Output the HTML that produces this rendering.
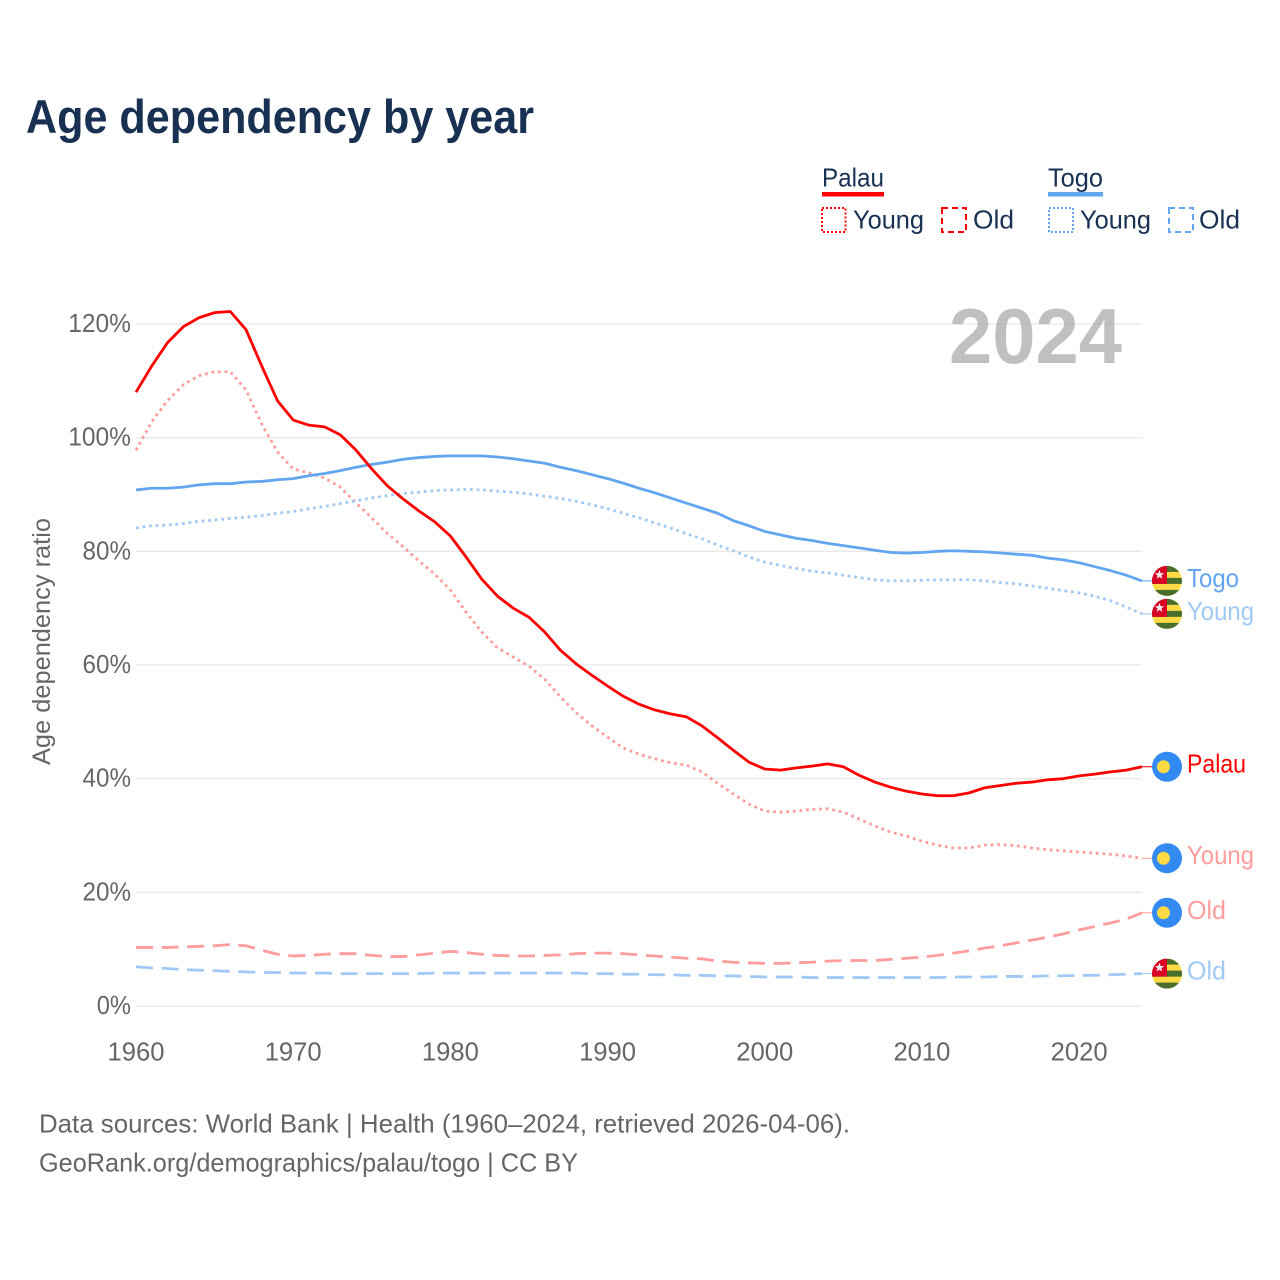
<!DOCTYPE html>
<html lang="en">
<head>
<meta charset="utf-8">
<title>Age dependency by year</title>
<style>
  html, body { margin: 0; padding: 0; background: #fff; }
  svg { display: block; font-family: "Liberation Sans", sans-serif; }
</style>
</head>
<body>
<svg id="chart" xmlns="http://www.w3.org/2000/svg" width="1280" height="1280" viewBox="0 0 1280 1280">
  <defs>
    <clipPath id="flag-clip"><circle cx="0" cy="0" r="15"/></clipPath>
    <g id="flag-togo">
      <g clip-path="url(#flag-clip)">
        <rect x="-15" y="-15" width="30" height="30" fill="#ffda44"/>
        <rect x="-15" y="-15" width="30" height="6" fill="#496e2d"/>
        <rect x="-15" y="-3" width="30" height="6" fill="#496e2d"/>
        <rect x="-15" y="9" width="30" height="6" fill="#496e2d"/>
        <rect x="-15" y="-15" width="15" height="18" fill="#d80027"/>
        <polygon points="-7.5,-11 -6.3,-7.6 -2.8,-7.6 -5.6,-5.4 -4.6,-2 -7.5,-4 -10.4,-2 -9.4,-5.4 -12.2,-7.6 -8.7,-7.6" fill="#f0f0f0"/>
      </g>
    </g>
    <g id="flag-palau">
      <circle cx="0" cy="0" r="15" fill="#338af3"/>
      <circle cx="-3.5" cy="0" r="6.5" fill="#ffda44"/>
    </g>
  </defs>

  <rect x="0" y="0" width="1280" height="1280" fill="#ffffff"/>

  <text x="26" y="133" font-size="47" font-weight="700" fill="#183153" textLength="508" lengthAdjust="spacingAndGlyphs">Age dependency by year</text>

  <g>
    <g>
      <text x="822" y="186.5" font-size="26" fill="#183153" textLength="62" lengthAdjust="spacingAndGlyphs">Palau</text>
      <rect x="822" y="192" width="62" height="4.5" fill="#ff0000"/>
      <rect x="822" y="208" width="23.5" height="24" fill="none" stroke="#ff0000" stroke-width="2" stroke-dasharray="2 2"/>
      <text x="853" y="228.5" font-size="26" fill="#183153" textLength="71" lengthAdjust="spacingAndGlyphs">Young</text>
      <rect x="942" y="208" width="24" height="24" fill="none" stroke="#ff0000" stroke-width="2" stroke-dasharray="6 4"/>
      <text x="973" y="228.5" font-size="26" fill="#183153" textLength="41" lengthAdjust="spacingAndGlyphs">Old</text>
    </g>
    <g>
      <text x="1048" y="186.5" font-size="26" fill="#183153" textLength="55" lengthAdjust="spacingAndGlyphs">Togo</text>
      <rect x="1048" y="192" width="55" height="4.5" fill="#62a6ef"/>
      <rect x="1049" y="208" width="24" height="24" fill="none" stroke="#62a6ef" stroke-width="2" stroke-dasharray="2 2"/>
      <text x="1080" y="228.5" font-size="26" fill="#183153" textLength="71" lengthAdjust="spacingAndGlyphs">Young</text>
      <rect x="1169" y="208" width="24" height="24" fill="none" stroke="#62a6ef" stroke-width="2" stroke-dasharray="6 4"/>
      <text x="1199" y="228.5" font-size="26" fill="#183153" textLength="41" lengthAdjust="spacingAndGlyphs">Old</text>
    </g>
  </g>

  <g id="grid"></g>
  <g id="y-ticks"></g>
  <g id="x-ticks"></g>

  <text transform="translate(50,765) rotate(-90)" x="0" y="0" font-size="25" fill="#666666" textLength="247" lengthAdjust="spacingAndGlyphs">Age dependency ratio</text>

  <text x="949" y="363" font-size="78" font-weight="700" fill="#a8a8a8" fill-opacity="0.72" textLength="173" lengthAdjust="spacingAndGlyphs">2024</text>

  <g id="series"></g>
  <g id="end-labels"></g>

  <text x="39" y="1132.5" font-size="26" fill="#666666" textLength="811" lengthAdjust="spacingAndGlyphs">Data sources: World Bank | Health (1960–2024, retrieved 2026-04-06).</text>
  <text x="39" y="1171.5" font-size="26" fill="#666666" textLength="539" lengthAdjust="spacingAndGlyphs">GeoRank.org/demographics/palau/togo | CC BY</text>
</svg>

<script>
const firstYear = 1960;
const yTicks = [0, 20, 40, 60, 80, 100, 120];
const xTicks = [1960, 1970, 1980, 1990, 2000, 2010, 2020];

const palauTotal = [108.0,112.6,116.7,119.5,121.1,122.0,122.2,119.0,112.6,106.5,103.1,102.2,101.9,100.5,97.8,94.5,91.5,89.2,87.1,85.2,82.7,79.0,75.1,72.1,70.0,68.4,65.8,62.6,60.2,58.2,56.3,54.5,53.1,52.1,51.4,50.9,49.3,47.2,45.0,42.9,41.7,41.5,41.9,42.2,42.6,42.1,40.6,39.4,38.5,37.8,37.3,37.0,37.0,37.5,38.4,38.8,39.2,39.4,39.8,40.0,40.5,40.8,41.2,41.5,42.1];
const palauYoung = [97.8,102.8,106.5,109.3,110.9,111.6,111.6,108.4,102.4,97.5,94.5,93.8,92.9,91.3,88.5,85.9,83.1,80.8,78.3,76.0,73.2,69.3,65.8,63.0,61.4,59.8,57.5,54.4,51.6,49.3,47.3,45.4,44.3,43.5,42.8,42.4,41.2,39.2,37.3,35.5,34.3,34.1,34.3,34.6,34.7,34.1,32.9,31.7,30.6,29.9,29.0,28.3,27.8,27.8,28.3,28.4,28.2,27.8,27.5,27.3,27.1,26.9,26.7,26.4,26.0];
const palauOld = [10.3,10.3,10.3,10.4,10.5,10.6,10.8,10.6,9.8,9.1,8.8,8.9,9.1,9.2,9.2,8.9,8.7,8.7,9.0,9.3,9.6,9.4,9.1,8.9,8.8,8.8,8.9,9.0,9.2,9.3,9.3,9.2,9.0,8.8,8.6,8.4,8.3,7.9,7.7,7.6,7.5,7.5,7.6,7.7,7.9,8.0,8.0,8.0,8.2,8.4,8.6,8.9,9.3,9.7,10.2,10.6,11.1,11.6,12.1,12.7,13.4,14.0,14.6,15.3,16.4];
const togoTotal = [90.8,91.1,91.1,91.3,91.7,91.9,91.9,92.2,92.3,92.6,92.8,93.3,93.7,94.2,94.8,95.3,95.7,96.2,96.5,96.7,96.8,96.8,96.8,96.6,96.3,95.9,95.5,94.8,94.2,93.5,92.8,92.0,91.1,90.3,89.4,88.5,87.6,86.7,85.4,84.5,83.5,82.9,82.3,81.9,81.4,81.0,80.6,80.2,79.8,79.7,79.8,80.0,80.1,80.0,79.9,79.7,79.5,79.3,78.8,78.5,78.0,77.3,76.6,75.8,74.8];
const togoYoung = [84.1,84.5,84.6,84.9,85.3,85.5,85.8,86.0,86.3,86.7,87.0,87.5,87.9,88.4,88.9,89.4,89.8,90.2,90.4,90.7,90.8,90.9,90.8,90.6,90.4,90.1,89.7,89.3,88.8,88.2,87.5,86.7,85.9,85.0,84.1,83.1,82.2,81.1,80.1,79.0,78.1,77.5,77.0,76.5,76.2,75.8,75.4,75.0,74.8,74.8,74.9,75.0,75.0,75.0,74.8,74.5,74.3,73.9,73.5,73.1,72.7,72.1,71.3,70.2,69.0];
const togoOld = [6.9,6.7,6.6,6.4,6.3,6.2,6.1,6.0,5.9,5.9,5.8,5.8,5.8,5.7,5.7,5.7,5.7,5.7,5.7,5.8,5.8,5.8,5.8,5.8,5.8,5.8,5.8,5.8,5.8,5.7,5.7,5.6,5.6,5.5,5.5,5.4,5.4,5.3,5.3,5.2,5.1,5.1,5.1,5.0,5.0,5.0,5.0,5.0,5.0,5.0,5.0,5.0,5.1,5.1,5.1,5.2,5.2,5.2,5.3,5.3,5.4,5.4,5.5,5.6,5.7];

const NS = 'http://www.w3.org/2000/svg';
const xScale = function (year) { return 136 + (year - 1960) * (1142 - 136) / 64; };
const yScale = function (v) { return 1006 - v * (1006 - 324) / 120; };

function make(tag, parent) {
  const el = document.createElementNS(NS, tag);
  parent.appendChild(el);
  return el;
}

const grid = document.getElementById('grid');
const yTickGroup = document.getElementById('y-ticks');
const xTickGroup = document.getElementById('x-ticks');
const seriesGroup = document.getElementById('series');
const labelGroup = document.getElementById('end-labels');

yTicks.forEach(function (t) {
  const line = make('line', grid);
  
  
  line.setAttribute('x1', 136);
  line.setAttribute('x2', 1142);
  line.setAttribute('y1', yScale(t));
  line.setAttribute('y2', yScale(t));
  line.setAttribute('stroke', '#e8e8e8');
  line.setAttribute('stroke-width', '1.3');

  const label = make('text', yTickGroup);
  
  
  const str = t + '%';
  const w = (str.length - 1) * 14.25 + 20;
  label.setAttribute('x', 131 - w);
  label.setAttribute('y', yScale(t) + 8);
  label.setAttribute('font-size', '25.5');
  label.setAttribute('fill', '#666666');
  label.setAttribute('textLength', w);
  label.setAttribute('lengthAdjust', 'spacingAndGlyphs');
  label.textContent = str;
});

xTicks.forEach(function (t) {
  const label = make('text', xTickGroup);
  
  
  label.setAttribute('x', xScale(t) - 28.5);
  label.setAttribute('y', 1060.5);
  label.setAttribute('font-size', '25.5');
  label.setAttribute('fill', '#666666');
  label.setAttribute('textLength', 57);
  label.setAttribute('lengthAdjust', 'spacingAndGlyphs');
  label.textContent = String(t);
});

function drawSeries(values, name, color, dash) {
  const pts = values.map(function (v, i) {
    return xScale(firstYear + i).toFixed(2) + ',' + yScale(v).toFixed(2);
  }).join(' ');
  const line = make('polyline', seriesGroup);
  
  
  line.setAttribute('points', pts);
  line.setAttribute('fill', 'none');
  line.setAttribute('stroke', color);
  line.setAttribute('stroke-width', '2.8');
  line.setAttribute('stroke-linejoin', 'round');
  if (dash) { line.setAttribute('stroke-dasharray', dash); }
}

const dots = '2.8 3.8';
const dashes = '17 8.6';
drawSeries(togoOld, 'line-togo-old', '#a1c9f5', dashes);
drawSeries(palauOld, 'line-palau-old', '#ff9c9c', dashes);
drawSeries(palauYoung, 'line-palau-young', '#ff9c9c', dots);
drawSeries(togoYoung, 'line-togo-young', '#a1c9f5', dots);
drawSeries(togoTotal, 'line-togo-total', '#62a6ef', '');
drawSeries(palauTotal, 'line-palau-total', '#ff0000', '');

function drawEndLabel(values, text, width, flag, color) {
  const y = yScale(values[values.length - 1]);

  const leader = make('line', labelGroup);
  
  
  leader.setAttribute('x1', 1142);
  leader.setAttribute('x2', 1153);
  leader.setAttribute('y1', y);
  leader.setAttribute('y2', y);
  leader.setAttribute('stroke', color);
  leader.setAttribute('stroke-width', '1');

  const icon = make('use', labelGroup);
  
  
  icon.setAttribute('href', '#' + flag);
  icon.setAttribute('x', 1167);
  icon.setAttribute('y', y);

  const label = make('text', labelGroup);
  
  
  label.setAttribute('x', 1187);
  label.setAttribute('y', y + 6);
  label.setAttribute('font-size', '26');
  label.setAttribute('fill', color);
  label.setAttribute('textLength', width);
  label.setAttribute('lengthAdjust', 'spacingAndGlyphs');
  label.textContent = text;
}

drawEndLabel(togoTotal, 'Togo', 52, 'flag-togo', '#62a6ef');
drawEndLabel(togoYoung, 'Young', 67, 'flag-togo', '#a1c9f5');
drawEndLabel(palauTotal, 'Palau', 59, 'flag-palau', '#ff0000');
drawEndLabel(palauYoung, 'Young', 67, 'flag-palau', '#ff9c9c');
drawEndLabel(palauOld, 'Old', 39, 'flag-palau', '#ff9c9c');
drawEndLabel(togoOld, 'Old', 39, 'flag-togo', '#a1c9f5');
</script>
</body>
</html>
